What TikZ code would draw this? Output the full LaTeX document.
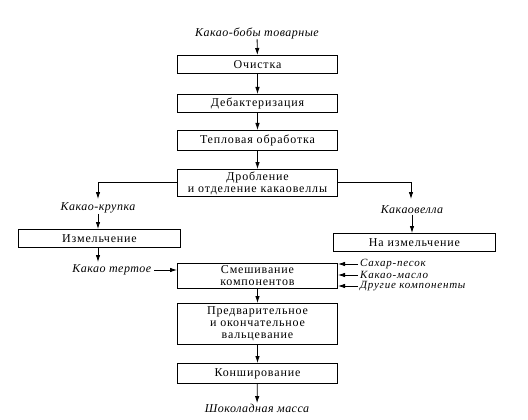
\documentclass[tikz,border=0pt]{standalone}
\usepackage{fontspec}
\setmainfont{Liberation Serif}
\usetikzlibrary{arrows.meta}
\begin{document}
\begin{tikzpicture}[x=1pt,y=-1pt,
  box/.style={draw,line width=1pt,inner sep=0pt,anchor=north west,align=center,font=\fontsize{12}{12}\selectfont\addfontfeature{LetterSpace=7}},
  lab/.style={font=\itshape\fontsize{12}{12}\selectfont\addfontfeature{LetterSpace=4},inner sep=0.5pt},
  sidelab/.style={font=\itshape\fontsize{11}{11}\selectfont\addfontfeature{LetterSpace=7},inner sep=0pt,anchor=west},
  arr/.style={-{Latex[length=7pt,width=4.5pt]},line width=0.8pt}]
\useasboundingbox (0,0) rectangle (528,420);
\node[box,minimum width=160pt,minimum height=18pt] (ochis) at (177,55) {Очистка};
\node[box,minimum width=160pt,minimum height=18pt] (debak) at (177,94) {Дебактеризация};
\node[box,minimum width=160pt,minimum height=20pt] (tepl) at (177,130) {Тепловая обработка};
\node[box,minimum width=160pt,minimum height=27pt] (drob) at (177,169) {Дробление\\и отделение какаовеллы};
\node[box,minimum width=162pt,minimum height=18pt] (izm) at (18,229) {Измельчение};
\node[box,minimum width=162pt,minimum height=18pt] (naizm) at (333,233) {На измельчение};
\node[box,minimum width=160pt,minimum height=25pt] (smesh) at (177,263) {Смешивание\\компонентов};
\node[box,minimum width=160pt,minimum height=41pt] (pred) at (177,303) {Предварительное\\и окончательное\\вальцевание};
\node[box,minimum width=160pt,minimum height=20pt] (konsh) at (177,363) {Конширование};

\node[lab] (bobs) at (257,33) {Какао-бобы товарные};
\node[lab] (krup) at (98,208) {Какао-крупка};
\node[lab] (vell) at (412,210) {Какаовелла};
\node[lab,anchor=east] (tert) at (152,270) {Какао тертое};
\node[sidelab] (sah) at (360,264) {Сахар-песок};
\node[sidelab] (masl) at (360,275) {Какао-масло};
\node[sidelab] (drug) at (360,286) {Другие компоненты};
\node[lab] (shok) at (257,408) {Шоколадная масса};

\draw[arr] (bobs) -- (ochis);
\draw[arr] (ochis) -- (debak);
\draw[arr] (debak) -- (tepl);
\draw[arr] (tepl) -- (drob);
\draw[arr] (drob.west |- 0,182) -- (98,182) -- (98,199);
\draw[arr] (drob.east |- 0,182) -- (411,182) -- (411,199);
\draw[arr] (krup) -- (krup |- izm.north);
\draw[arr] (vell) -- (vell |- naizm.north);
\draw[arr] (izm.south -| 98,0) -- (98,262);
\draw[arr] (tert.east) ++(2,0) -- (tert -| smesh.west);
\draw[arr] (sah.west) ++(-2,0) -- (sah.west -| smesh.east);
\draw[arr] (masl.west) ++(-2,0) -- (masl.west -| smesh.east);
\draw[arr] (drug.west) ++(-2,0) -- (drug.west -| smesh.east);
\draw[arr] (smesh) -- (pred);
\draw[arr] (pred) -- (konsh);
\draw[arr] (konsh) -- (shok);
\end{tikzpicture}
\end{document}
